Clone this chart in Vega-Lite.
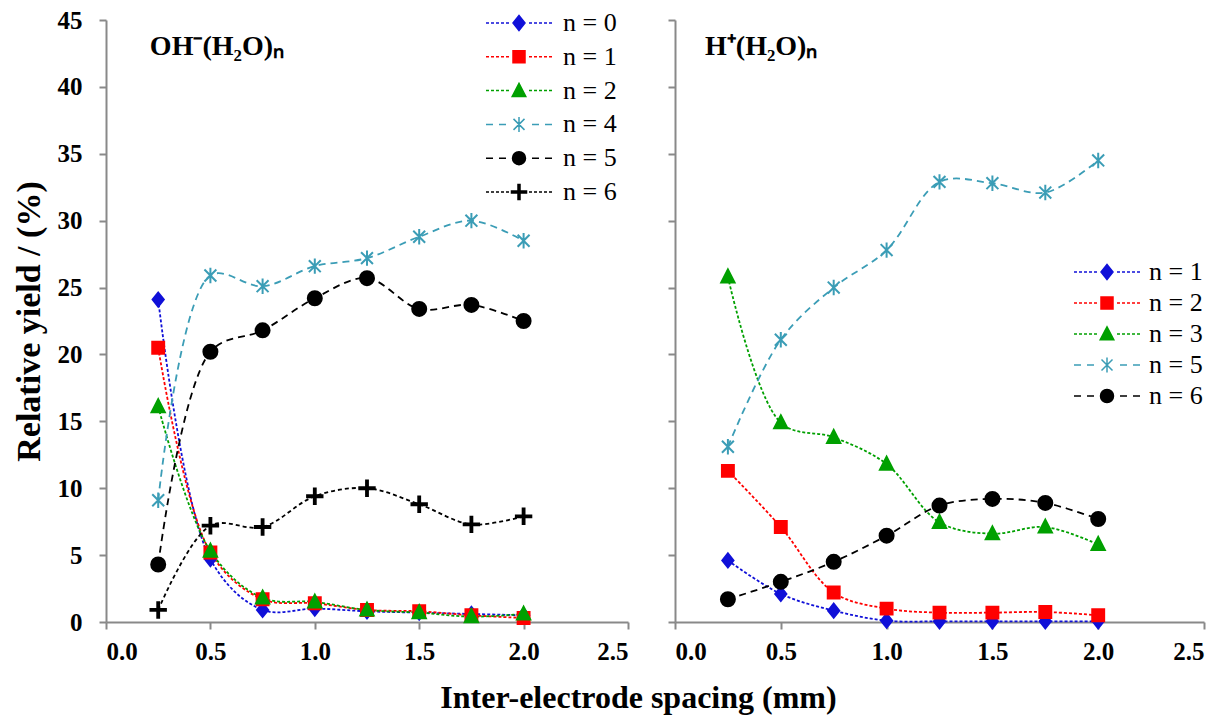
{
  "$schema": "https://vega.github.io/schema/vega-lite/v6.json",
  "padding": {"left": 12, "top": 8, "right": 5, "bottom": 5},
  "background": "white",
  "title": {"text": "Inter-electrode spacing (mm)", "orient": "bottom", "anchor": "middle", "font": "Liberation Serif", "fontSize": 32, "fontWeight": "bold", "color": "#000", "offset": 19, "dx": 30},
  "datasets": {
    "oh": [
      {"series": "n = 0", "x": 0.25, "y": 24.1}, {"series": "n = 0", "x": 0.5, "y": 4.7}, {"series": "n = 0", "x": 0.75, "y": 0.9}, {"series": "n = 0", "x": 1.0, "y": 1.0}, {"series": "n = 0", "x": 1.25, "y": 0.8}, {"series": "n = 0", "x": 1.5, "y": 0.7}, {"series": "n = 0", "x": 1.75, "y": 0.6}, {"series": "n = 0", "x": 2.0, "y": 0.5},
      {"series": "n = 1", "x": 0.25, "y": 20.5}, {"series": "n = 1", "x": 0.5, "y": 5.2}, {"series": "n = 1", "x": 0.75, "y": 1.7}, {"series": "n = 1", "x": 1.0, "y": 1.4}, {"series": "n = 1", "x": 1.25, "y": 0.9}, {"series": "n = 1", "x": 1.5, "y": 0.8}, {"series": "n = 1", "x": 1.75, "y": 0.5}, {"series": "n = 1", "x": 2.0, "y": 0.3},
      {"series": "n = 2", "x": 0.25, "y": 16.1}, {"series": "n = 2", "x": 0.5, "y": 5.3}, {"series": "n = 2", "x": 0.75, "y": 1.8}, {"series": "n = 2", "x": 1.0, "y": 1.5}, {"series": "n = 2", "x": 1.25, "y": 0.9}, {"series": "n = 2", "x": 1.5, "y": 0.7}, {"series": "n = 2", "x": 1.75, "y": 0.4}, {"series": "n = 2", "x": 2.0, "y": 0.6},
      {"series": "n = 4", "x": 0.25, "y": 9.1}, {"series": "n = 4", "x": 0.5, "y": 25.9}, {"series": "n = 4", "x": 0.75, "y": 25.1}, {"series": "n = 4", "x": 1.0, "y": 26.6}, {"series": "n = 4", "x": 1.25, "y": 27.2}, {"series": "n = 4", "x": 1.5, "y": 28.8}, {"series": "n = 4", "x": 1.75, "y": 30.0}, {"series": "n = 4", "x": 2.0, "y": 28.5},
      {"series": "n = 5", "x": 0.25, "y": 4.3}, {"series": "n = 5", "x": 0.5, "y": 20.2}, {"series": "n = 5", "x": 0.75, "y": 21.8}, {"series": "n = 5", "x": 1.0, "y": 24.2}, {"series": "n = 5", "x": 1.25, "y": 25.7}, {"series": "n = 5", "x": 1.5, "y": 23.4}, {"series": "n = 5", "x": 1.75, "y": 23.7}, {"series": "n = 5", "x": 2.0, "y": 22.5},
      {"series": "n = 6", "x": 0.25, "y": 0.9}, {"series": "n = 6", "x": 0.5, "y": 7.2}, {"series": "n = 6", "x": 0.75, "y": 7.1}, {"series": "n = 6", "x": 1.0, "y": 9.4}, {"series": "n = 6", "x": 1.25, "y": 10.0}, {"series": "n = 6", "x": 1.5, "y": 8.8}, {"series": "n = 6", "x": 1.75, "y": 7.3}, {"series": "n = 6", "x": 2.0, "y": 7.9}
    ],
    "h": [
      {"series": "n = 1", "x": 0.25, "y": 4.6}, {"series": "n = 1", "x": 0.5, "y": 2.1}, {"series": "n = 1", "x": 0.75, "y": 0.85}, {"series": "n = 1", "x": 1.0, "y": 0.1}, {"series": "n = 1", "x": 1.25, "y": 0.05}, {"series": "n = 1", "x": 1.5, "y": 0.05}, {"series": "n = 1", "x": 1.75, "y": 0.05}, {"series": "n = 1", "x": 2.0, "y": 0.05},
      {"series": "n = 2", "x": 0.25, "y": 11.3}, {"series": "n = 2", "x": 0.5, "y": 7.1}, {"series": "n = 2", "x": 0.75, "y": 2.2}, {"series": "n = 2", "x": 1.0, "y": 1.0}, {"series": "n = 2", "x": 1.25, "y": 0.7}, {"series": "n = 2", "x": 1.5, "y": 0.7}, {"series": "n = 2", "x": 1.75, "y": 0.75}, {"series": "n = 2", "x": 2.0, "y": 0.5},
      {"series": "n = 3", "x": 0.25, "y": 25.8}, {"series": "n = 3", "x": 0.5, "y": 14.9}, {"series": "n = 3", "x": 0.75, "y": 13.8}, {"series": "n = 3", "x": 1.0, "y": 11.8}, {"series": "n = 3", "x": 1.25, "y": 7.45}, {"series": "n = 3", "x": 1.5, "y": 6.6}, {"series": "n = 3", "x": 1.75, "y": 7.1}, {"series": "n = 3", "x": 2.0, "y": 5.8},
      {"series": "n = 5", "x": 0.25, "y": 13.1}, {"series": "n = 5", "x": 0.5, "y": 21.1}, {"series": "n = 5", "x": 0.75, "y": 25.0}, {"series": "n = 5", "x": 1.0, "y": 27.8}, {"series": "n = 5", "x": 1.25, "y": 32.9}, {"series": "n = 5", "x": 1.5, "y": 32.8}, {"series": "n = 5", "x": 1.75, "y": 32.1}, {"series": "n = 5", "x": 2.0, "y": 34.5},
      {"series": "n = 6", "x": 0.25, "y": 1.7}, {"series": "n = 6", "x": 0.5, "y": 3.0}, {"series": "n = 6", "x": 0.75, "y": 4.5}, {"series": "n = 6", "x": 1.0, "y": 6.45}, {"series": "n = 6", "x": 1.25, "y": 8.7}, {"series": "n = 6", "x": 1.5, "y": 9.2}, {"series": "n = 6", "x": 1.75, "y": 8.9}, {"series": "n = 6", "x": 2.0, "y": 7.7}
    ]
  },
  "spacing": 38,
  "resolve": {
    "scale": {"x": "independent", "y": "independent", "fill": "independent", "stroke": "independent", "shape": "independent", "strokeDash": "independent"},
    "legend": {"fill": "independent", "stroke": "independent", "shape": "independent", "strokeDash": "independent"}
  },
  "hconcat": [
    {
      "width": 522,
      "height": 602,
      "data": {"name": "oh"},
      "layer": [
        {
          "mark": {"type": "line", "interpolate": "catmull-rom", "strokeWidth": 1.8},
          "encoding": {
            "x": {"field": "x", "type": "quantitative", "scale": {"domain": [0, 2.5], "nice": false, "zero": false}, "axis": {"values": [0, 0.5, 1, 1.5, 2, 2.5], "format": ".1f", "title": null, "labelPadding": 10}},
            "y": {"field": "y", "type": "quantitative", "scale": {"domain": [0, 45], "nice": false}, "axis": {"values": [0, 5, 10, 15, 20, 25, 30, 35, 40, 45], "labelPadding": 17, "title": "Relative yield / (%)", "titleFontSize": 34, "titlePadding": 11}},
            "stroke": {"field": "series", "type": "nominal", "scale": {"domain": ["n = 0", "n = 1", "n = 2", "n = 4", "n = 5", "n = 6"], "range": ["#1010d8", "#ff0000", "#00a000", "#3b9db6", "#000000", "#000000"]}, "legend": null},
            "strokeDash": {"field": "series", "type": "nominal", "scale": {"domain": ["n = 0", "n = 1", "n = 2", "n = 4", "n = 5", "n = 6"], "range": [[3, 2], [3, 2], [3, 2], [7, 5], [7, 5], [4, 3]]}, "legend": null}
          }
        },
        {
          "mark": {"type": "point", "filled": true, "size": 196, "strokeWidth": 2, "opacity": 1},
          "encoding": {
            "x": {"field": "x", "type": "quantitative"},
            "y": {"field": "y", "type": "quantitative"},
            "stroke": {"field": "series", "type": "nominal", "legend": null},
            "shape": {"field": "series", "type": "nominal", "legend": null,
              "scale": {"domain": ["n = 0", "n = 1", "n = 2", "n = 4", "n = 5", "n = 6"], "range": ["M0,-1.0L0.8,0L0,1.0L-0.8,0Z", "M-0.85,-0.85H0.85V0.85H-0.85Z", "M0,-1.05L0.95,0.8H-0.95Z", "M-0.85,-0.85L0.85,0.85M-0.85,0.85L0.85,-0.85M0,-1.1V1.1", "M1,0A1,1,0,1,1,-1,0A1,1,0,1,1,1,0Z", "M-1.1,-0.13H-0.13V-1.1H0.13V-0.13H1.1V0.13H0.13V1.1H-0.13V0.13H-1.1Z"]}},
            "fill": {"field": "series", "type": "nominal",
              "scale": {"range": ["#1010d8", "#ff0000", "#00a000", "#3b9db6", "#000000", "#000000"]},
              "legend": {
                "orient": "none", "legendX": 364, "legendY": -10, "title": null, "padding": 0,
                "symbolSize": 400, "symbolOffset": 36, "labelOffset": 31, "rowPadding": 7.8,
                "labelFont": "Liberation Serif", "labelFontSize": 26, "labelColor": "#000", "labelFontWeight": "normal",
                "encoding": {"symbols": {
                  "shape": {"value": {"expr": "{'n = 0':'M-3.3,0H-3M-2.8,0H-2.5M-2.3,0H-2M-1.8,0H-1.5M-1.3,0H-1M1,0H1.3M1.5,0H1.8M2,0H2.3M2.5,0H2.8M3,0H3.3M0,-0.75L0.6,0L0,0.75L-0.6,0Z','n = 1':'M-3.3,0H-3M-2.8,0H-2.5M-2.3,0H-2M-1.8,0H-1.5M-1.3,0H-1M1,0H1.3M1.5,0H1.8M2,0H2.3M2.5,0H2.8M3,0H3.3M-0.6,-0.6H0.6V0.6H-0.6Z','n = 2':'M-3.3,0H-3M-2.8,0H-2.5M-2.3,0H-2M-1.8,0H-1.5M-1.3,0H-1M1,0H1.3M1.5,0H1.8M2,0H2.3M2.5,0H2.8M3,0H3.3M0,-0.72L0.68,0.58H-0.68Z','n = 4':'M-3.3,0H-2.6M-2,0H-1.3M1.3,0H2M2.6,0H3.3M-0.55,-0.55L0.55,0.55M-0.55,0.55L0.55,-0.55M0,-0.75V0.75','n = 5':'M-3.3,0H-2.6M-2,0H-1.3M1.3,0H2M2.6,0H3.3M0.65,0A0.65,0.65,0,1,1,-0.65,0A0.65,0.65,0,1,1,0.65,0Z','n = 6':'M-3.3,0H-3M-2.8,0H-2.5M-2.3,0H-2M-1.8,0H-1.5M-1.3,0H-1M1,0H1.3M1.5,0H1.8M2,0H2.3M2.5,0H2.8M3,0H3.3M-0.75,-0.1H-0.1V-0.75H0.1V-0.1H0.75V0.1H0.1V0.75H-0.1V0.1H-0.75Z'}[datum.value]"}},
                  "stroke": {"value": {"expr": "{'n = 0':'#1010d8','n = 1':'#ff0000','n = 2':'#00a000','n = 4':'#3b9db6','n = 5':'#000000','n = 6':'#000000'}[datum.value]"}},
                  "strokeWidth": {"value": 1.5},
                  "size": {"value": 400},
                  "opacity": {"value": 1}
                }}
              }
            }
          }
        },
        {
          "data": {"values": [{}]},
          "mark": {"type": "text", "font": "Liberation Serif", "fontSize": 28, "fontWeight": "bold", "align": "left", "baseline": "middle", "color": "#000"},
          "encoding": {"x": {"datum": 0.21, "type": "quantitative"}, "y": {"datum": 43, "type": "quantitative"}, "text": {"value": "OH⁻(H₂O)ₙ"}}
        }
      ]
    },
    {
      "width": 529,
      "height": 602,
      "data": {"name": "h"},
      "layer": [
        {
          "mark": {"type": "line", "interpolate": "catmull-rom", "strokeWidth": 1.8},
          "encoding": {
            "x": {"field": "x", "type": "quantitative", "scale": {"domain": [0, 2.5], "nice": false, "zero": false}, "axis": {"values": [0, 0.5, 1, 1.5, 2, 2.5], "format": ".1f", "title": null, "labelPadding": 10}},
            "y": {"field": "y", "type": "quantitative", "scale": {"domain": [0, 45], "nice": false}, "axis": {"values": [0, 5, 10, 15, 20, 25, 30, 35, 40, 45], "labels": false, "title": null}},
            "stroke": {"field": "series", "type": "nominal", "scale": {"domain": ["n = 1", "n = 2", "n = 3", "n = 5", "n = 6"], "range": ["#1010d8", "#ff0000", "#00a000", "#3b9db6", "#000000"]}, "legend": null},
            "strokeDash": {"field": "series", "type": "nominal", "scale": {"domain": ["n = 1", "n = 2", "n = 3", "n = 5", "n = 6"], "range": [[3, 2], [3, 2], [3, 2], [7, 5], [7, 5]]}, "legend": null}
          }
        },
        {
          "mark": {"type": "point", "filled": true, "size": 196, "strokeWidth": 2, "opacity": 1},
          "encoding": {
            "x": {"field": "x", "type": "quantitative"},
            "y": {"field": "y", "type": "quantitative"},
            "stroke": {"field": "series", "type": "nominal", "legend": null},
            "shape": {"field": "series", "type": "nominal", "legend": null,
              "scale": {"domain": ["n = 1", "n = 2", "n = 3", "n = 5", "n = 6"], "range": ["M0,-1.0L0.8,0L0,1.0L-0.8,0Z", "M-0.85,-0.85H0.85V0.85H-0.85Z", "M0,-1.05L0.95,0.8H-0.95Z", "M-0.85,-0.85L0.85,0.85M-0.85,0.85L0.85,-0.85M0,-1.1V1.1", "M1,0A1,1,0,1,1,-1,0A1,1,0,1,1,1,0Z"]}},
            "fill": {"field": "series", "type": "nominal",
              "scale": {"range": ["#1010d8", "#ff0000", "#00a000", "#3b9db6", "#000000"]},
              "legend": {
                "orient": "none", "legendX": 383, "legendY": 239, "title": null, "padding": 0,
                "symbolSize": 400, "symbolOffset": 36, "labelOffset": 29, "rowPadding": 5,
                "labelFont": "Liberation Serif", "labelFontSize": 26, "labelColor": "#000", "labelFontWeight": "normal",
                "encoding": {"symbols": {
                  "shape": {"value": {"expr": "{'n = 1':'M-3.3,0H-3M-2.8,0H-2.5M-2.3,0H-2M-1.8,0H-1.5M-1.3,0H-1M1,0H1.3M1.5,0H1.8M2,0H2.3M2.5,0H2.8M3,0H3.3M0,-0.75L0.6,0L0,0.75L-0.6,0Z','n = 2':'M-3.3,0H-3M-2.8,0H-2.5M-2.3,0H-2M-1.8,0H-1.5M-1.3,0H-1M1,0H1.3M1.5,0H1.8M2,0H2.3M2.5,0H2.8M3,0H3.3M-0.6,-0.6H0.6V0.6H-0.6Z','n = 3':'M-3.3,0H-3M-2.8,0H-2.5M-2.3,0H-2M-1.8,0H-1.5M-1.3,0H-1M1,0H1.3M1.5,0H1.8M2,0H2.3M2.5,0H2.8M3,0H3.3M0,-0.72L0.68,0.58H-0.68Z','n = 5':'M-3.3,0H-2.6M-2,0H-1.3M1.3,0H2M2.6,0H3.3M-0.55,-0.55L0.55,0.55M-0.55,0.55L0.55,-0.55M0,-0.75V0.75','n = 6':'M-3.3,0H-2.6M-2,0H-1.3M1.3,0H2M2.6,0H3.3M0.65,0A0.65,0.65,0,1,1,-0.65,0A0.65,0.65,0,1,1,0.65,0Z'}[datum.value]"}},
                  "stroke": {"value": {"expr": "{'n = 1':'#1010d8','n = 2':'#ff0000','n = 3':'#00a000','n = 5':'#3b9db6','n = 6':'#000000'}[datum.value]"}},
                  "strokeWidth": {"value": 1.5},
                  "size": {"value": 400},
                  "opacity": {"value": 1}
                }}
              }
            }
          }
        },
        {
          "data": {"values": [{}]},
          "mark": {"type": "text", "font": "Liberation Serif", "fontSize": 28, "fontWeight": "bold", "align": "left", "baseline": "middle", "color": "#000"},
          "encoding": {"x": {"datum": 0.142, "type": "quantitative"}, "y": {"datum": 43, "type": "quantitative"}, "text": {"value": "H⁺(H₂O)ₙ"}}
        }
      ]
    }
  ],
  "config": {
    "font": "Liberation Serif",
    "view": {"stroke": null},
    "axis": {"domainColor": "#898989", "domainWidth": 2, "tickColor": "#898989", "tickWidth": 2, "tickSize": 7, "grid": false, "labelFont": "Liberation Serif", "labelFontSize": 25, "labelFontWeight": "bold", "labelColor": "#000", "titleFont": "Liberation Serif", "titleFontWeight": "bold", "titleColor": "#000"}
  }
}
